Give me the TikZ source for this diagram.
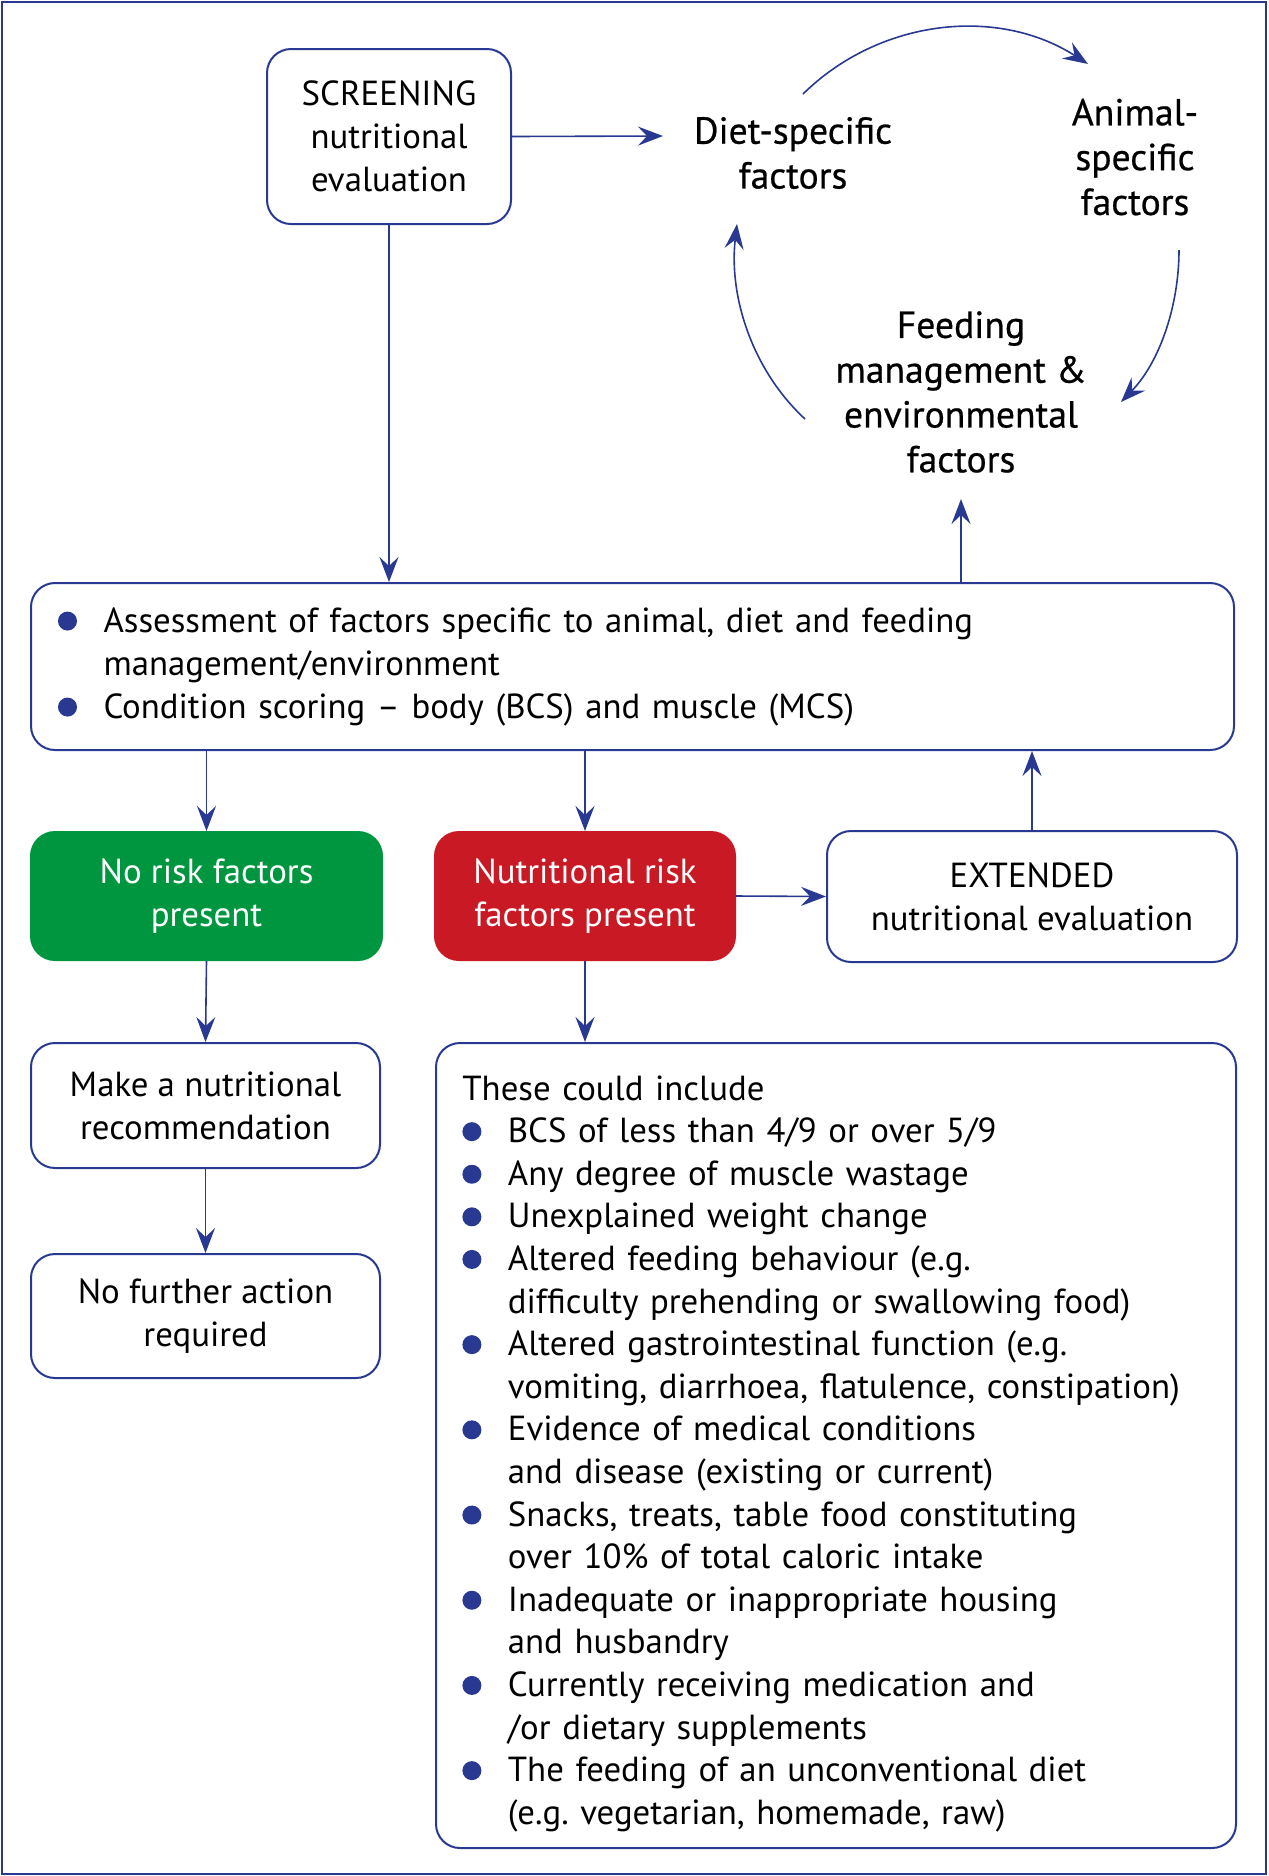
\documentclass[tikz,border=0pt]{standalone}
\usepackage{fontspec}
\setmainfont{PT Sans}
\newfontfamily\lblfam[FakeBold=0.6]{PT Sans}
\usetikzlibrary{arrows.meta,calc}
\definecolor{fblue}{RGB}{41,57,145}
\definecolor{fgreen}{RGB}{0,150,64}
\definecolor{fred}{RGB}{200,25,36}
\newcommand{\boxfont}{\frenchspacing\fontsize{17.4}{21.5}\selectfont}
\newcommand{\listfont}{\frenchspacing\fontsize{17.4}{21.3}\selectfont}
\newcommand{\lblfont}{\lblfam\fontsize{18.8}{22.4}\selectfont}
\newcommand{\bdot}{\makebox[22.75pt][l]{\tikz[baseline=0pt]\fill[fblue] (4.75pt,5.5pt) circle[radius=4.75pt];}}
\newcommand{\bind}{\hspace*{22.75pt}}
\begin{document}
\begin{tikzpicture}[x=0.5pt,y=-0.5pt,
  box/.style={draw=fblue, line width=1pt, rounded corners=12pt, align=center, font=\boxfont, inner sep=0pt},
  lbl/.style={align=center, font=\lblfont, inner sep=0pt},
  arr/.style={draw=fblue, line width=0.8pt, -{Stealth[length=12.5pt,width=9.5pt,inset=4.5pt]}}]
\useasboundingbox (0,0) rectangle (1269,1876);
\draw[fblue, line width=1pt] (2,2) rectangle (1266,1874);

% nodes
\node[box, minimum width=122pt, minimum height=87.5pt] (scr) at (389,136.5) {SCREENING\\nutritional\\evaluation};
\node[lbl] (diet) at (793,153) {Diet-specific\\factors};
\node[lbl] (animal) at (1135,157) {Animal-\\specific\\factors};
\node[lbl] (feed) at (961,392) {Feeding\\management \&\\environmental\\factors};

\node[box, minimum width=601.5pt, minimum height=83.5pt, text width=574.5pt, align=left, inner xsep=13.5pt] (assess) at (632.5,666.5)
 {\bdot Assessment of factors specific to animal, diet and feeding\\
  \bind management/environment\\
  \bdot Condition scoring – body (BCS) and muscle (MCS)};

\node[box, draw=fgreen, fill=fgreen, text=white, minimum width=175.5pt, minimum height=64pt] (norisk) at (206.5,896) {No risk factors\\present};
\node[box, draw=fred, fill=fred, text=white, minimum width=150pt, minimum height=64pt] (risk) at (585,896) {Nutritional risk\\factors present};
\node[box, minimum width=205pt, minimum height=65.5pt] (ext) at (1032,896.5) {EXTENDED\\nutritional evaluation};

\node[box, minimum width=174.5pt, minimum height=62.5pt] (make) at (205.5,1105.5) {Make a nutritional\\recommendation};
\node[box, minimum width=174.5pt, minimum height=62pt] (nofurther) at (205.5,1316) {No further action\\required};

\node[box, minimum width=400pt, minimum height=402.5pt] (list) at (836,1445.5) {};
\node[anchor=north west, inner sep=0pt, text width=385pt, align=left, font=\listfont] (listtxt) at (462,1075)
 {These could include\\
  \bdot BCS of less than 4/9 or over 5/9\\
  \bdot Any degree of muscle wastage\\
  \bdot Unexplained weight change\\
  \bdot Altered feeding behaviour (e.g.\\
  \bind difficulty prehending or swallowing food)\\
  \bdot Altered gastrointestinal function (e.g.\\
  \bind vomiting, diarrhoea, flatulence, constipation)\\
  \bdot Evidence of medical conditions\\
  \bind and disease (existing or current)\\
  \bdot Snacks, treats, table food constituting\\
  \bind over 10\% of total caloric intake\\
  \bdot Inadequate or inappropriate housing\\
  \bind and husbandry\\
  \bdot Currently receiving medication and\\
  \bind /or dietary supplements\\
  \bdot The feeding of an unconventional diet\\
  \bind (e.g. vegetarian, homemade, raw)};

% free ends
\coordinate (dietin) at (663,136);
\coordinate (feedin) at (961,499);
\coordinate (c1s) at (803,94);
\coordinate (c1e) at (1088,64);
\coordinate (c2s) at (1179,250);
\coordinate (c2e) at (1121,402);
\coordinate (c3s) at (805,419);
\coordinate (c3e) at (737,224);

% connectors
\draw[arr] (scr.east) -- (dietin);
\draw[arr] (scr.south) -- (scr.south |- assess.north);
\draw[arr] (c1s) .. controls (879.6,18.7) and (997.6,6.1) .. (c1e);
\draw[arr] (c2s) .. controls (1179,305.7) and (1159.7,362) .. (c2e);
\draw[arr] (c3s) .. controls (751.9,369.8) and (728.7,295.9) .. (c3e);
\draw[arr] (assess.north -| feedin) -- (feedin);
\draw[arr] (norisk.north |- assess.south) -- (norisk.north);
\draw[arr] (risk.north |- assess.south) -- (risk.north);
\draw[arr] (ext.north) -- (ext.north |- assess.south);
\draw[arr] (risk.east) -- (ext.west);
\draw[arr] (norisk.south) -- (make.north);
\draw[arr] (make.south) -- (nofurther.north);
\draw[arr] (risk.south) -- (risk.south |- list.north);
\end{tikzpicture}
\end{document}
